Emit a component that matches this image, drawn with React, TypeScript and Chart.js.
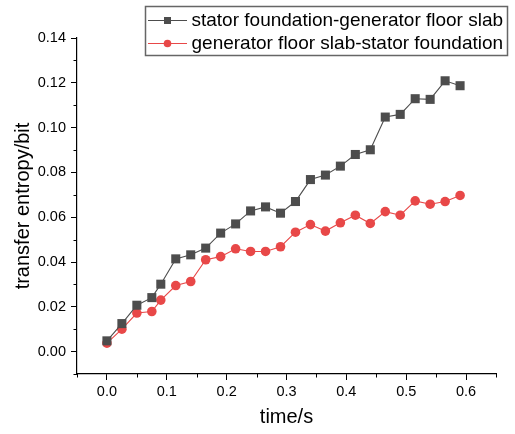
import React, { useEffect, useRef } from "react";
import { Chart, registerables } from "chart.js";

Chart.register(...registerables);

const times = [0, 0.025, 0.05, 0.075, 0.09, 0.115, 0.14, 0.165, 0.19, 0.215, 0.24, 0.265, 0.29, 0.315, 0.34, 0.365, 0.39, 0.415, 0.44, 0.465, 0.49, 0.515, 0.54, 0.565, 0.59];
const statorToFloor = [0.0048, 0.0125, 0.0207, 0.0241, 0.0301, 0.0414, 0.0432, 0.0462, 0.0529, 0.057, 0.0628, 0.0646, 0.0618, 0.067, 0.0768, 0.0788, 0.0828, 0.088, 0.0901, 0.1047, 0.1059, 0.1129, 0.1126, 0.1209, 0.1187];
const floorToStator = [0.0038, 0.01, 0.0172, 0.0179, 0.023, 0.0295, 0.0313, 0.041, 0.0424, 0.0459, 0.0447, 0.0447, 0.0468, 0.0533, 0.0567, 0.0538, 0.0575, 0.0609, 0.0572, 0.0625, 0.0609, 0.0673, 0.0658, 0.067, 0.0697];
const seriesNames = ["stator foundation-generator floor slab", "generator floor slab-stator foundation"];
const xTicks = [0, 0.1, 0.2, 0.3, 0.4, 0.5, 0.6];
const xMinorTicks = [-0.05, 0.05, 0.15, 0.25, 0.35, 0.45, 0.55, 0.65];
const yTicks = [0, 0.02, 0.04, 0.06, 0.08, 0.1, 0.12, 0.14];
const yMinorTicks = [-0.01, 0.01, 0.03, 0.05, 0.07, 0.09, 0.11, 0.13];
const xTitle = "time/s";
const yTitle = "transfer entropy/bit";

const FONT = "'Liberation Sans', Arial, sans-serif";
const BLACK = "#4d4d4d";
const RED = "#e84848";

const minorTickPlugin = {
  id: "minorTicks",
  afterDraw(chart: any) {
    const ctx = chart.ctx;
    const xs = chart.scales.x;
    const ys = chart.scales.y;
    const area = chart.chartArea;
    ctx.save();
    ctx.strokeStyle = "#000";
    ctx.lineWidth = 1;
    ctx.beginPath();
    xMinorTicks.forEach((v) => {
      const px = Math.round(xs.getPixelForValue(v)) + 0.5;
      ctx.moveTo(px, area.bottom);
      ctx.lineTo(px, area.bottom + 3.5);
    });
    yMinorTicks.forEach((v) => {
      const py = Math.round(ys.getPixelForValue(v)) + 0.5;
      ctx.moveTo(area.left, py);
      ctx.lineTo(area.left - 3.5, py);
    });
    ctx.stroke();
    ctx.restore();
  },
};

const legendPlugin = {
  id: "customLegend",
  afterDraw(chart: any) {
    const ctx = chart.ctx;
    const box = { x: 145.5, y: 6.5, w: 362, h: 49 };
    ctx.save();
    ctx.fillStyle = "#fff";
    ctx.fillRect(box.x, box.y, box.w, box.h);
    ctx.strokeStyle = "#666";
    ctx.lineWidth = 1.5;
    ctx.strokeRect(box.x, box.y, box.w, box.h);
    const rows = [20.5, 43.5];
    chart.data.datasets.forEach((ds: any, i: number) => {
      const y = rows[i];
      ctx.strokeStyle = ds.borderColor;
      ctx.lineWidth = 1;
      ctx.beginPath();
      ctx.moveTo(148, y);
      ctx.lineTo(187, y);
      ctx.stroke();
      ctx.fillStyle = ds.pointBackgroundColor;
      if (ds.pointStyle === "rect") {
        ctx.fillRect(164, y - 3.5, 7, 7);
      } else {
        ctx.beginPath();
        ctx.arc(167.5, y, 3.8, 0, Math.PI * 2);
        ctx.fill();
      }
      ctx.fillStyle = "#000";
      ctx.font = `19px ${FONT}`;
      ctx.textBaseline = "middle";
      ctx.textAlign = "left";
      ctx.fillText(ds.label, 191.5, y + 0.5);
    });
    ctx.restore();
  },
};

export default function App() {
  const ref = useRef<HTMLCanvasElement | null>(null);
  useEffect(() => {
    if (!ref.current) return;
    const chart = new Chart(ref.current, {
      type: "line",
      data: {
        datasets: [
          {
            label: seriesNames[0],
            data: times.map((t, i) => ({ x: t, y: statorToFloor[i] })),
            borderColor: BLACK,
            backgroundColor: BLACK,
            pointBackgroundColor: BLACK,
            pointBorderColor: BLACK,
            pointStyle: "rect",
            pointRadius: 6.4,
            pointBorderWidth: 0,
            borderWidth: 1.1,
            tension: 0,
          },
          {
            label: seriesNames[1],
            data: times.map((t, i) => ({ x: t, y: floorToStator[i] })),
            borderColor: RED,
            backgroundColor: RED,
            pointBackgroundColor: RED,
            pointBorderColor: RED,
            pointStyle: "circle",
            pointRadius: 4.8,
            pointBorderWidth: 0,
            borderWidth: 1.1,
            tension: 0,
          },
        ],
      },
      options: {
        responsive: false,
        animation: false,
        devicePixelRatio: 1,
        layout: { padding: { top: 38, right: 19, left: 0, bottom: 0 } },
        plugins: { legend: { display: false }, tooltip: { enabled: false } },
        scales: {
          x: {
            type: "linear",
            min: -0.05,
            max: 0.65,
            afterFit: (s: any) => {
              s.height = 60;
            },
            afterBuildTicks: (s: any) => {
              s.ticks = xTicks.map((v) => ({ value: v }));
            },
            grid: { drawOnChartArea: false, drawTicks: true, tickLength: 6, tickColor: "#000", tickWidth: 1 },
            border: { display: true, color: "#000", width: 1.2 },
            ticks: {
              color: "#000",
              font: { family: FONT, size: 14.5 },
              padding: 3,
              maxRotation: 0,
              autoSkip: false,
              callback: (v: any) => Number(v).toFixed(1),
            },
            title: {
              display: true,
              text: xTitle,
              color: "#000",
              font: { family: FONT, size: 20 },
              padding: { top: 0, bottom: 5 },
            },
          },
          y: {
            type: "linear",
            min: -0.01,
            max: 0.14,
            afterFit: (s: any) => {
              s.width = 77;
            },
            afterBuildTicks: (s: any) => {
              s.ticks = yTicks.map((v) => ({ value: v }));
            },
            grid: { drawOnChartArea: false, drawTicks: true, tickLength: 6, tickColor: "#000", tickWidth: 1 },
            border: { display: true, color: "#000", width: 1.2 },
            ticks: {
              color: "#000",
              font: { family: FONT, size: 14.5 },
              padding: 5,
              autoSkip: false,
              callback: (v: any) => Number(v).toFixed(2),
            },
            title: {
              display: true,
              text: yTitle,
              color: "#000",
              font: { family: FONT, size: 20 },
              padding: { top: 11, bottom: 0 },
            },
          },
        },
      },
      plugins: [minorTickPlugin, legendPlugin],
    } as any);
    return () => chart.destroy();
  }, []);
  return (
    <div style={{ position: "absolute", left: 0, top: 0, width: 515, height: 434, background: "#fff" }}>
      <canvas ref={ref} width={515} height={434} style={{ display: "block" }} />
    </div>
  );
}
